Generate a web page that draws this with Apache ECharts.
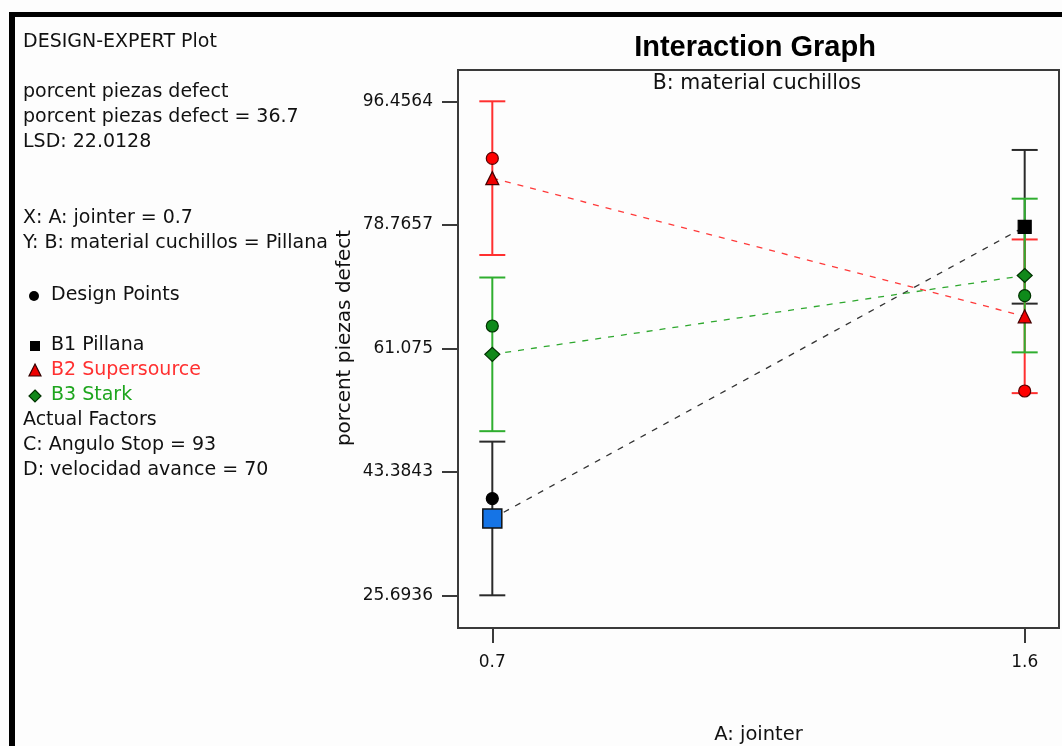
<!DOCTYPE html>
<html>
<head>
<meta charset="utf-8">
<title>Interaction Graph</title>
<script src="https://cdn.jsdelivr.net/npm/echarts@6/dist/echarts.min.js"></script>
<style>
  html, body { margin: 0; padding: 0; background: #fdfdfd; }
  #chart { width: 1062px; height: 746px; }
</style>
</head>
<body>
<div id="chart"></div>
<script>
// A: jointer levels on the x axis
const jointer = [0.7, 1.6];
const jointerLabels = ['0.7', '1.6'];

// predicted means for each B: material cuchillos level
const pillanaMean = [36.70, 78.48];
const supersourceMean = [85.45, 65.66];
const starkMean = [60.21, 71.50];

// design points (actual runs)
const pillanaDesign = [39.55, null];
const supersourceDesign = [88.28, 54.96];
const starkDesign = [64.27, 68.61];

// least significant difference, bars are mean +/- lsd/2
const lsd = 22.0128;

// y tick labels as printed by Design-Expert
const yTicks = [25.6936, 43.3843, 61.075, 78.7657, 96.4564];
const yTickLabels = ['25.6936', '43.3843', '61.075', '78.7657', '96.4564'];

const infoLines = [
  'DESIGN-EXPERT Plot',
  'porcent piezas defect',
  'porcent piezas defect = 36.7',
  'LSD: 22.0128',
  'X: A: jointer = 0.7',
  'Y: B: material cuchillos = Pillana',
  'Design Points',
  'B1 Pillana',
  'B2 Supersource',
  'B3 Stark',
  'Actual Factors',
  'C: Angulo Stop = 93',
  'D: velocidad avance = 70'
];

const FONT = 'DejaVu Sans';
const BLACK = '#2a2a2a';
const RED = '#ff3030';
const GREEN = '#2fae2f';

const chart = echarts.init(document.getElementById('chart'));

function errorBars(name, means, color, z) {
  return {
    type: 'custom',
    name: name,
    z: z,
    silent: true,
    encode: { x: 0, y: [1, 2] },
    data: jointer.map((x, i) => [x, means[i] - lsd / 2, means[i] + lsd / 2]),
    renderItem: (params, api) => {
      const top = api.coord([api.value(0), api.value(2)]);
      const bot = api.coord([api.value(0), api.value(1)]);
      const hw = 13;
      const style = { stroke: color, lineWidth: 2, fill: null };
      return {
        type: 'group',
        children: [
          { type: 'line', shape: { x1: top[0], y1: top[1], x2: bot[0], y2: bot[1] }, style: style },
          { type: 'line', shape: { x1: top[0] - hw, y1: top[1], x2: top[0] + hw, y2: top[1] }, style: style },
          { type: 'line', shape: { x1: bot[0] - hw, y1: bot[1], x2: bot[0] + hw, y2: bot[1] }, style: style }
        ]
      };
    }
  };
}

function meanLine(name, means, lineColor, symbol, size, fill, border) {
  return {
    type: 'line',
    name: name,
    z: 5,
    silent: true,
    data: jointer.map((x, i) => [x, means[i]]),
    symbol: symbol,
    symbolSize: size,
    showAllSymbol: true,
    lineStyle: { color: lineColor, width: 1.3, type: [6, 7] },
    itemStyle: { color: fill, borderColor: border, borderWidth: 1.2, opacity: 1 }
  };
}

function designPoints(name, vals, fill, border) {
  return {
    type: 'scatter',
    name: name,
    z: 6,
    silent: true,
    symbol: 'circle',
    symbolSize: 12,
    data: jointer.map((x, i) => [x, vals[i]]).filter(d => d[1] !== null),
    itemStyle: { color: fill, borderColor: border, borderWidth: 1.2, opacity: 1 }
  };
}

const pillanaLine = meanLine('B1 Pillana', pillanaMean, '#333333', 'rect', 13, '#000000', '#000000');
// current factor point (A = 0.7, B = Pillana) is highlighted in blue
pillanaLine.data[0] = {
  value: pillanaLine.data[0],
  symbol: 'rect',
  symbolSize: 19,
  itemStyle: { color: '#1574e6', borderColor: '#111111', borderWidth: 1.5 }
};

const leftText = [];
const textY = [42, 92, 117, 142, 218, 243, 295, 345, 370, 395, 420, 445, 470];
const textX = [23, 23, 23, 23, 23, 23, 51, 51, 51, 51, 23, 23, 23];
const textColor = ['#111', '#111', '#111', '#111', '#111', '#111', '#111', '#111', RED, '#1ea51e', '#111', '#111', '#111'];
infoLines.forEach((t, i) => {
  leftText.push({
    type: 'text', x: textX[i], y: textY[i], z: 10,
    style: { text: t, font: '19px "' + FONT + '"', fill: textColor[i], textVerticalAlign: 'middle' }
  });
});

const option = {
  backgroundColor: '#fdfdfd',
  animation: false,
  grid: {
    left: 458, top: 70, width: 601, height: 558,
    outerBoundsMode: 'none',
    containLabel: false,
    show: true, borderColor: '#3a3a3a', borderWidth: 2, backgroundColor: 'transparent'
  },
  xAxis: {
    type: 'value',
    min: 0.642,
    max: 1.658,
    name: 'A: jointer',
    nameLocation: 'middle',
    nameGap: 97,
    nameTextStyle: { fontFamily: FONT, fontSize: 19.5, color: '#111' },
    axisLine: { show: true, lineStyle: { color: '#3a3a3a', width: 2 } },
    axisTick: { show: true, length: 15, customValues: jointer, lineStyle: { color: '#3a3a3a', width: 2 } },
    axisLabel: {
      customValues: jointer,
      margin: 26,
      fontFamily: FONT, fontSize: 17, color: '#111',
      formatter: v => jointerLabels[jointer.findIndex(j => Math.abs(j - v) < 1e-6)] || ''
    },
    splitLine: { show: false }
  },
  yAxis: {
    type: 'value',
    min: 21.01,
    max: 100.94,
    axisLine: { show: true, lineStyle: { color: '#3a3a3a', width: 2 } },
    axisTick: { show: true, length: 16, customValues: yTicks, lineStyle: { color: '#3a3a3a', width: 2 } },
    axisLabel: {
      customValues: yTicks,
      margin: 25,
      fontFamily: FONT, fontSize: 17, color: '#111',
      formatter: v => yTickLabels[yTicks.findIndex(t => Math.abs(t - v) < 1e-6)] || ''
    },
    splitLine: { show: false }
  },
  graphic: [
    // outer frame of the plot window
    { type: 'line', z: 20, shape: { x1: 9, y1: 14.5, x2: 1062, y2: 14.5 }, style: { stroke: '#000', lineWidth: 5 } },
    { type: 'line', z: 20, shape: { x1: 12, y1: 12, x2: 12, y2: 746 }, style: { stroke: '#000', lineWidth: 6 } },
    {
      type: 'text', x: 755, y: 48, z: 10,
      style: { text: 'Interaction Graph', font: 'bold 29px "Liberation Sans"', fill: '#000', textAlign: 'center', textVerticalAlign: 'middle' }
    },
    {
      type: 'text', x: 757, y: 84, z: 10,
      style: { text: 'B: material cuchillos', font: '20.5px "' + FONT + '"', fill: '#111', textAlign: 'center', textVerticalAlign: 'middle' }
    },
    {
      type: 'text', x: 345, y: 338, z: 11, rotation: Math.PI / 2,
      style: {
        text: 'porcent piezas defect', font: '20px "' + FONT + '"', fill: '#111',
        textAlign: 'center', textVerticalAlign: 'middle', backgroundColor: '#fdfdfd', padding: [0, 2]
      }
    },
    // legend glyphs
    { type: 'circle', z: 10, shape: { cx: 34, cy: 296, r: 5 }, style: { fill: '#000' } },
    { type: 'rect', z: 10, shape: { x: 30, y: 341, width: 10, height: 10 }, style: { fill: '#000' } },
    { type: 'polygon', z: 10, shape: { points: [[35, 364], [41, 376], [29, 376]] }, style: { fill: '#ee0000', stroke: '#330000', lineWidth: 1.2 } },
    { type: 'polygon', z: 10, shape: { points: [[35, 390], [41, 396], [35, 402], [29, 396]] }, style: { fill: '#11881a', stroke: '#003300', lineWidth: 1.2 } }
  ].concat(leftText),
  series: [
    errorBars('B1 Pillana LSD', pillanaMean, BLACK, 2),
    errorBars('B2 Supersource LSD', supersourceMean, RED, 3),
    errorBars('B3 Stark LSD', starkMean, GREEN, 4),
    pillanaLine,
    meanLine('B2 Supersource', supersourceMean, '#ff3a3a', 'triangle', 13, '#ee0000', '#440000'),
    meanLine('B3 Stark', starkMean, '#2fa82f', 'diamond', [15, 14], '#11881a', '#003300'),
    designPoints('Pillana design', pillanaDesign, '#000000', '#000000'),
    designPoints('Supersource design', supersourceDesign, '#ff0000', '#550000'),
    designPoints('Stark design', starkDesign, '#0e8a1a', '#003300')
  ]
};

chart.setOption(option);
</script>
</body>
</html>
